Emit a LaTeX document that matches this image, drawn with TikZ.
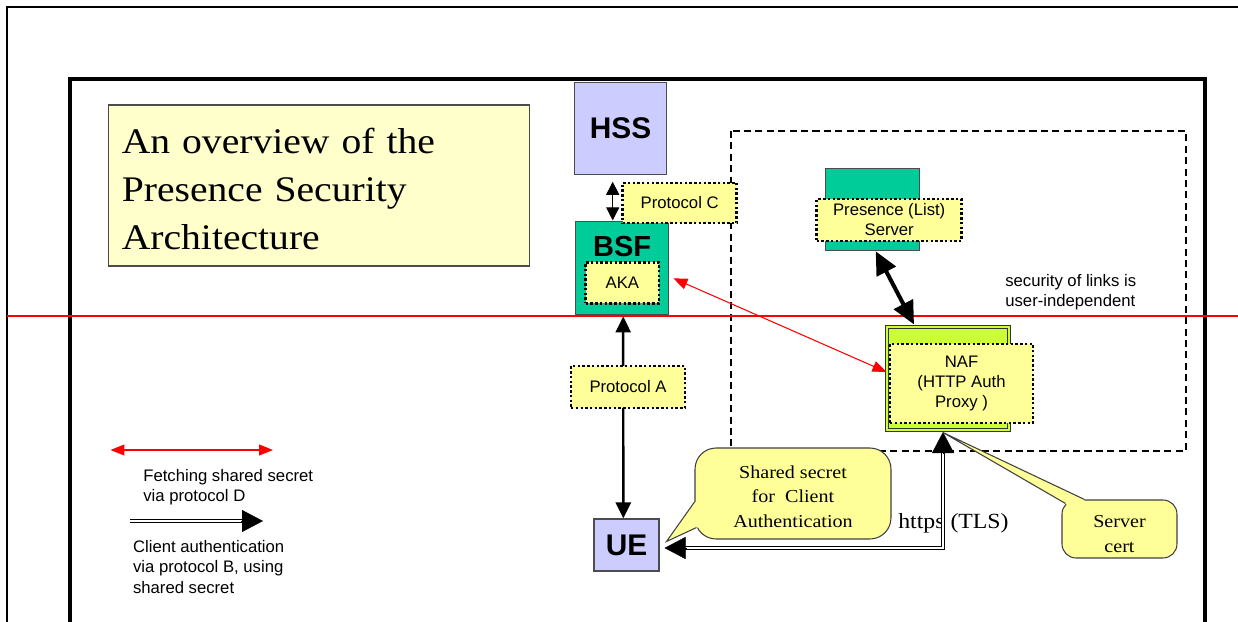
\documentclass[tikz,border=0pt]{standalone}
\usepackage{fontspec}
\setmainfont{Liberation Sans}
\newfontfamily\timesfont{Liberation Serif}[FakeStretch=1.1]
\usetikzlibrary{arrows.meta,calc}

\definecolor{hssblue}{HTML}{CCCCFF}
\definecolor{bsfgreen}{HTML}{00CC99}
\definecolor{nafgreen}{HTML}{CCFF33}
\definecolor{notefill}{HTML}{FFFF99}
\definecolor{titlefill}{HTML}{FFFFCC}

\tikzset{
  netbox/.style={draw=black!70, line width=0.6pt, inner sep=0pt, font=\bfseries\fontsize{17}{20}\selectfont},
  notebox/.style={draw=black, fill=notefill, line width=1.4pt, dash pattern=on 1.4pt off 1.3pt, inner sep=0pt, align=center, font=\fontsize{9.5}{11.4}\selectfont},
  titlebox/.style={draw=black!70, line width=0.6pt, fill=titlefill, minimum width=8.44cm, minimum height=3.22cm, inner xsep=0.274cm, text width=7.89cm, align=left, font=\timesfont\fontsize{20.5}{27.3}\selectfont},
  callout/.style={draw=black!75, fill=notefill, line width=0.6pt, rounded corners=12pt, align=center, inner sep=0pt, font=\timesfont\fontsize{10.4}{14}\selectfont},
  fetch/.style={red, line width=0.6pt, {Triangle[length=0.28cm,width=0.22cm]}-{Triangle[length=0.28cm,width=0.22cm]}},
  authline/.style={double, line width=0.65pt, double distance=1.2pt},
  authtip/.style={line width=0.2pt, -{Triangle[length=0.42cm,width=0.44cm]}},
  legendtext/.style={anchor=north west, inner sep=0pt, align=left, font=\fontsize{9.5}{11.4}\selectfont},
}

\begin{document}
\begin{tikzpicture}[x=0.02cm, y=-0.02cm]
\useasboundingbox (0,0) rectangle (1238,622);

% frames
\draw[line width=0.85pt] (7,622) -- (7,7) -- (1238,7);
\draw[line width=2pt] (70,622) -- (70,79) -- (1205,79) -- (1205,622);

\node[titlebox] (title) at (319,185.5) {\rule{0pt}{18pt}An overview of the\\Presence Security\\Architecture};

% user-independent zone
\draw[line width=1pt, dash pattern=on 4pt off 2.5pt] (730.7,131) rectangle (1186,451);

% home network side
\node[netbox, fill=hssblue, minimum width=1.85cm, minimum height=1.83cm] (hss) at (620.5,128.5) {HSS};
\node[netbox, fill=bsfgreen, minimum width=1.85cm, minimum height=1.86cm] (bsf) at (622.2,268.4) {};
\node[font=\bfseries\fontsize{16.5}{20}\selectfont, inner sep=0pt] (bsftext) at (622.2,246.7) {BSF};
\node[notebox, minimum width=1.47cm, minimum height=0.82cm] (aka) at (622.4,282.8) {AKA};
\node[netbox, fill=hssblue, minimum width=1.3cm, minimum height=1.04cm] (ue) at (626.5,545) {UE};

% presence side
\node[netbox, fill=bsfgreen, minimum width=1.87cm, minimum height=1.65cm] (pres) at (872.3,209.5) {};
\node[notebox, minimum width=2.9cm, minimum height=0.83cm] (presnote) at (889.2,220) {Presence (List)\\Server};
\node[draw=black!80, line width=0.6pt, double=nafgreen, double distance=1.4pt, fill=nafgreen, minimum width=2.44cm, minimum height=2.06cm] (naf) at (948,378.5) {};
\node[notebox, minimum width=2.86cm, minimum height=1.58cm] (nafnote) at (961.5,383.3) {NAF\\(HTTP Auth\\Proxy )};
\node[legendtext] (secure) at (1005,274.5) {security of links is\\user-independent};
\node[font=\timesfont\fontsize{12.3}{14}\selectfont, anchor=base west, inner sep=0pt] (https) at (898,528) {https (TLS)};

\draw[red, line width=1.1pt] (7,316) -- (1238,316);

% links
\draw[{Triangle[length=0.26cm,width=0.26cm]}-{Triangle[length=0.26cm,width=0.26cm]}, line width=0.6pt] ($(hss.south)+(-7.8,7)$) -- ($(bsf.north)+(-9.5,-1)$);
\draw[{Triangle[length=0.32cm,width=0.3cm]}-{Triangle[length=0.32cm,width=0.3cm]}, line width=1.4pt] ($(bsf.south)+(1,1)$) -- ($(ue.north)+(-3.2,0)$);
\draw[fetch] ($(aka.east)+(13,-4.5)$) -- ($(naf.west)+(0,-6.5)$);
\draw[{Triangle[length=0.46cm,width=0.42cm]}-{Triangle[length=0.46cm,width=0.42cm]}, line width=2.3pt] ($(pres.south)+(3.4,0)$) -- ($(naf.north)+(-34,-2)$);

\node[notebox, minimum width=2.28cm, minimum height=0.81cm] (protc) at (679.7,203) {Protocol C};
\node[notebox, minimum width=2.28cm, minimum height=0.84cm] (prota) at (628,387) {Protocol A};

% client authentication over https
\coordinate (bend) at (943,548);
\draw[authline] ($(bend -| ue.east)+(24,0)$) -- (bend) -- ($(bend |- naf.south)+(0,18)$);
\draw[authtip] ($(bend -| ue.east)+(27,0)$) -- ($(bend -| ue.east)+(5,0)$);
\draw[authtip] ($(bend |- naf.south)+(0,22)$) -- ($(bend |- naf.south)+(0,1.5)$);

% callouts
\node[callout, minimum width=3.92cm, minimum height=1.82cm] (secret) at (793,493.5) {\rule{0pt}{10.6pt}Shared secret\\for\ \ Client\\Authentication};
\coordinate (secrettip) at ($(ue.north east)+(7,23)$);
\fill[notefill] ($(secret.west)+(0,8.5)$) -- (secrettip) -- ($(secret.south west)+(2,-12)$)
  -- ($(secret.south west)+(8,-12)$) -- ($(secret.west)+(6,8.5)$) -- cycle;
\draw[black!75, line width=0.6pt] ($(secret.west)+(0,8.5)$) -- (secrettip) -- ($(secret.south west)+(2,-12)$);

\node[callout, rounded corners=8pt, minimum width=2.3cm, minimum height=1.16cm] (cert) at (1119.5,529) {\rule{0pt}{12.7pt}Server\\cert};
\coordinate (certtip) at ($(bend |- naf.south)+(0,2)$);
\fill[notefill] ($(cert.north west)+(4,4)$) -- (certtip) -- ($(cert.north west)+(23,0)$)
  -- ($(cert.north west)+(23,6)$) -- ($(cert.north west)+(8,8)$) -- cycle;
\draw[black!75, line width=0.6pt] ($(cert.north west)+(4,4)$) -- (certtip) -- ($(cert.north west)+(23,0)$);

% legend
\coordinate (fa) at (110.5,450);
\coordinate (fb) at (273,450);
\draw[fetch] (fa) -- (fb);
\node[legendtext] (fetchtext) at (143,469.5) {Fetching shared secret\\via protocol D};
\coordinate (ba) at (130,521);
\coordinate (bb) at (263,521);
\draw[authline] (ba) -- ($(bb)+(-20,0)$);
\draw[authtip] ($(bb)+(-22,0)$) -- (bb);
\node[legendtext] (authtext) at (132.7,540.5) {Client authentication\\via protocol B, using\\shared secret};

\end{tikzpicture}
\end{document}
